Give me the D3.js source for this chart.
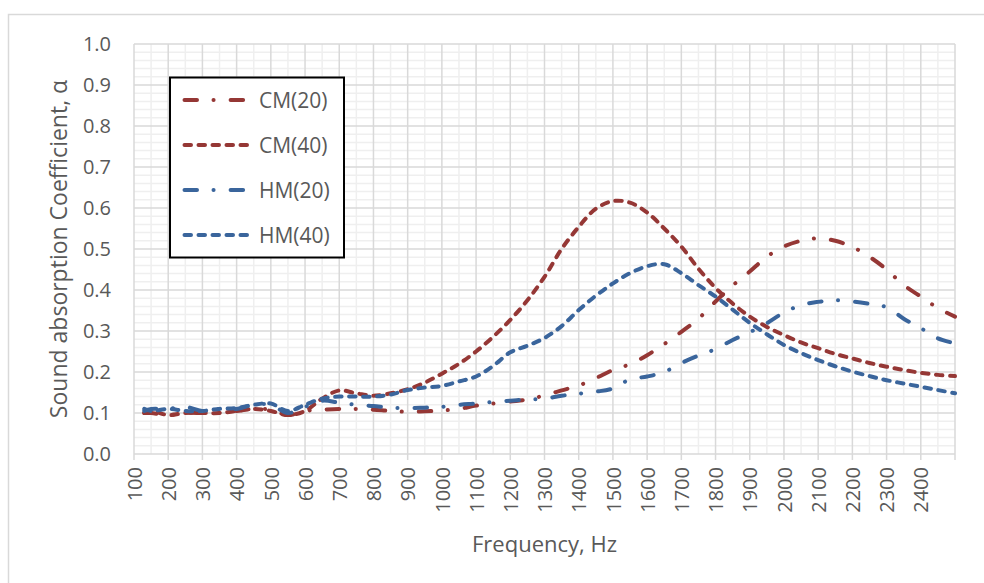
<!DOCTYPE html>
<html><head><meta charset="utf-8">
<script src="https://cdn.jsdelivr.net/npm/d3@7/dist/d3.min.js"></script>
<style>
html,body{margin:0;padding:0;background:#fff;}
svg{display:block;}
text{font-family:"Open Sans","Liberation Sans",sans-serif;fill:#595959;}
</style></head>
<body>
<svg id="chart" width="984" height="583"></svg>
<script>
const frequencies = [130,150,200,250,300,350,400,450,500,550,600,650,700,750,800,850,900,950,1000,1050,1100,1150,1200,1250,1300,1350,1400,1450,1500,1550,1600,1650,1700,1750,1800,1850,1900,1950,2000,2050,2100,2150,2200,2250,2300,2350,2400,2450,2500];
const cm20 = [0.100,0.100,0.095,0.100,0.100,0.100,0.105,0.110,0.108,0.095,0.105,0.108,0.110,0.110,0.108,0.105,0.103,0.104,0.106,0.110,0.118,0.123,0.128,0.133,0.143,0.155,0.167,0.185,0.205,0.219,0.241,0.268,0.298,0.330,0.372,0.411,0.445,0.481,0.506,0.520,0.526,0.520,0.505,0.481,0.450,0.412,0.384,0.356,0.335];
const cm40 = [0.100,0.105,0.095,0.100,0.100,0.100,0.105,0.110,0.105,0.095,0.105,0.135,0.155,0.148,0.142,0.148,0.158,0.174,0.196,0.220,0.250,0.286,0.327,0.375,0.432,0.500,0.554,0.598,0.617,0.613,0.589,0.550,0.506,0.452,0.405,0.367,0.335,0.310,0.290,0.272,0.258,0.244,0.233,0.222,0.213,0.205,0.198,0.193,0.190];
const hm20 = [0.105,0.110,0.110,0.115,0.105,0.110,0.110,0.120,0.120,0.100,0.115,0.130,0.125,0.120,0.117,0.113,0.112,0.113,0.115,0.120,0.123,0.127,0.130,0.133,0.135,0.142,0.147,0.152,0.160,0.182,0.189,0.200,0.222,0.240,0.256,0.278,0.297,0.319,0.345,0.363,0.371,0.375,0.372,0.366,0.358,0.330,0.307,0.282,0.270];
const hm40 = [0.110,0.105,0.110,0.105,0.105,0.110,0.112,0.120,0.123,0.105,0.120,0.135,0.140,0.140,0.140,0.145,0.156,0.162,0.166,0.177,0.189,0.215,0.248,0.264,0.283,0.312,0.351,0.386,0.416,0.441,0.458,0.463,0.441,0.412,0.384,0.352,0.320,0.292,0.266,0.246,0.229,0.214,0.201,0.190,0.180,0.172,0.164,0.156,0.148];
const seriesNames = ["CM(20)","CM(40)","HM(20)","HM(40)"];
const xTickLabels = [100,200,300,400,500,600,700,800,900,1000,1100,1200,1300,1400,1500,1600,1700,1800,1900,2000,2100,2200,2300,2400];
const yTickLabels = [0.0,0.1,0.2,0.3,0.4,0.5,0.6,0.7,0.8,0.9,1.0];

const svg = d3.select("#chart");
const L = 134, R = 955, T = 44, B = 454;
const x = d3.scaleLinear().domain([100,2500]).range([L,R]);
const y = d3.scaleLinear().domain([0,1]).range([B,T]);

// outer chart border
svg.append("rect").attr("x",8.5).attr("y",14.5).attr("width",1000).attr("height",600)
  .attr("fill","none").attr("stroke","#d9d9d9").attr("stroke-width",1.5);

// minor grid
const g = svg.append("g");
d3.range(150,2500,100).forEach(f=>{
  g.append("line").attr("x1",x(f)).attr("x2",x(f)).attr("y1",T).attr("y2",B).attr("stroke","#efefef").attr("stroke-width",1.5);
});
d3.range(0,51).filter(i=>i%5!==0).forEach(i=>{
  const v=i/50;
  g.append("line").attr("x1",L).attr("x2",R).attr("y1",y(v)).attr("y2",y(v)).attr("stroke","#efefef").attr("stroke-width",1.5);
});
// major grid
d3.range(100,2501,100).forEach(f=>{
  g.append("line").attr("x1",x(f)).attr("x2",x(f)).attr("y1",T).attr("y2",B+6).attr("stroke","#d9d9d9").attr("stroke-width",1.5);
});
yTickLabels.forEach(v=>{
  g.append("line").attr("x1",L).attr("x2",R).attr("y1",y(v)).attr("y2",y(v)).attr("stroke","#d9d9d9").attr("stroke-width",1.5);
});

// y axis labels
const yAxis = d3.axisLeft(y).tickValues(yTickLabels).tickFormat(d3.format(".1f")).tickSize(0).tickPadding(23);
const ya = svg.append("g").attr("transform",`translate(${L},0)`).call(yAxis);
ya.select(".domain").remove();
ya.selectAll("text").style("font-size","20px").style("fill","#595959").style("font-family","'Open Sans','Liberation Sans',sans-serif");

// x axis labels
const xAxis = d3.axisBottom(x).tickValues(xTickLabels).tickFormat(d3.format("d")).tickSize(0);
const xa = svg.append("g").attr("transform",`translate(0,${B})`).call(xAxis);
xa.select(".domain").remove();
xa.selectAll("text").attr("transform","rotate(-90)").attr("x",-13).attr("y",0).attr("dy","0.36em")
  .attr("text-anchor","end").style("font-size","20px").style("fill","#595959").style("font-family","'Open Sans','Liberation Sans',sans-serif");

// axis titles
svg.append("text").attr("x",(L+R)/2).attr("y",552).attr("text-anchor","middle").style("font-size","22px").text("Frequency, Hz");
svg.append("text").attr("transform",`translate(67,${(T+B)/2}) rotate(-90)`).attr("text-anchor","middle").style("font-size","23px").text("Sound absorption Coefficient, α");

// series
const red = "#953735", blue = "#3a659c";
const dashDot = "12.5,16.5,0.1,17", dashed = "6.5,7.5";
const series = [
  {name:seriesNames[0], vals:cm20, color:red, dash:dashDot},
  {name:seriesNames[1], vals:cm40, color:red, dash:dashed},
  {name:seriesNames[2], vals:hm20, color:blue, dash:dashDot},
  {name:seriesNames[3], vals:hm40, color:blue, dash:dashed}
];
const line = d3.line().x((d,i)=>x(frequencies[i])).y(d=>y(d)).curve(d3.curveCatmullRom.alpha(0.5));
series.forEach(s=>{
  svg.append("path").attr("d",line(s.vals)).attr("fill","none").attr("stroke",s.color)
    .attr("stroke-width",4).attr("stroke-linecap","round").attr("stroke-dasharray",s.dash);
});

// legend
const lg = svg.append("g");
lg.append("rect").attr("x",170).attr("y",77.5).attr("width",174).attr("height",180).attr("fill","#fff").attr("stroke","#000").attr("stroke-width",2);
series.forEach((s,i)=>{
  const yy = 100 + i*45;
  lg.append("line").attr("x1",184.5).attr("x2",s.dash===dashed?251:243.5).attr("y1",yy).attr("y2",yy)
    .attr("stroke",s.color).attr("stroke-width",4).attr("stroke-linecap","round").attr("stroke-dasharray",s.dash);
  lg.append("text").attr("x",259).attr("y",yy).attr("dy","0.36em").style("font-size","21px").text(s.name);
});
</script>
</body></html>
